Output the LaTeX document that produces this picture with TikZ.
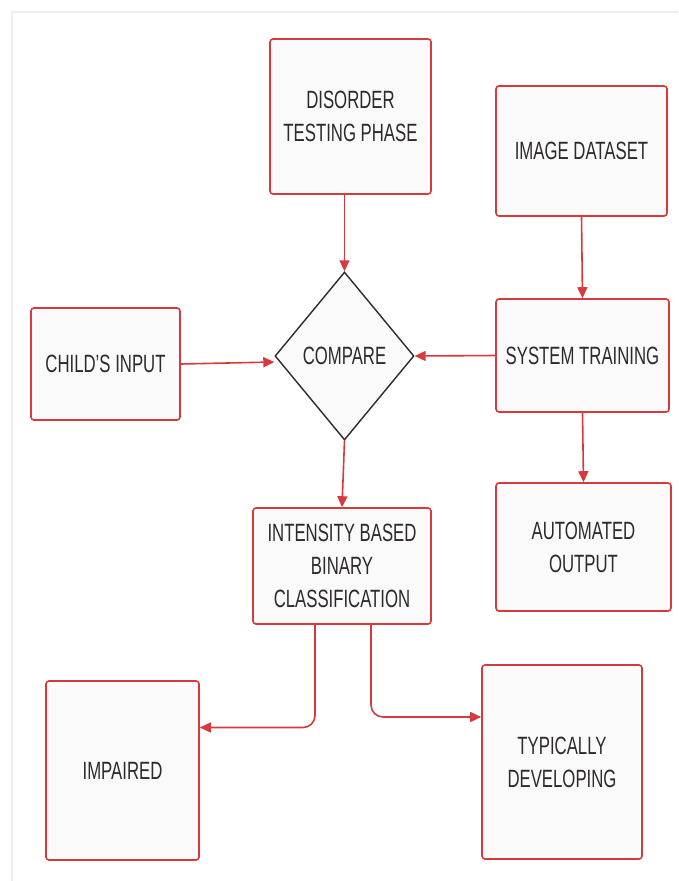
\documentclass[tikz,border=0pt]{standalone}
\usepackage{fontspec}
\setmainfont[FakeStretch=0.67]{Liberation Sans}
\usetikzlibrary{shapes.geometric,arrows.meta}
\definecolor{boxred}{HTML}{D63A3C}
\definecolor{boxfill}{HTML}{FAFAFA}
\definecolor{ink}{HTML}{2E2A2A}
\definecolor{frame}{HTML}{EEEEEE}
\tikzset{
  stepbox/.style={draw=boxred, fill=boxfill, line width=1.6pt, rounded corners=3pt,
    inner sep=0pt, align=center, text=ink, font=\fontsize{25}{33}\selectfont},
  decide/.style={diamond, draw=ink, fill=boxfill, line width=1.4pt, inner sep=0pt,
    minimum width=139pt, minimum height=168pt, aspect=0.83,
    text=ink, font=\fontsize{25}{33}\selectfont},
  flow/.style={draw=boxred, line width=1.6pt, -{Triangle[length=11pt,width=10pt]}},
}
\begin{document}
\begin{tikzpicture}[x=1pt,y=-1pt]
\useasboundingbox (0,0) rectangle (678,881);
% page frame
\draw[frame, line width=2pt] (12,881) -- (12,12) -- (678,12);

% process boxes
\node[stepbox, minimum width=161pt, minimum height=155pt] (dtp) at (350.5,116.5) {DISORDER\\TESTING PHASE};
\node[stepbox, minimum width=171pt, minimum height=130pt] (ids) at (581.5,151) {IMAGE DATASET};
\node[stepbox, minimum width=149pt, minimum height=112pt] (ci) at (105.5,364) {CHILD'S INPUT};
\node[decide] (cmp) at (344.5,356) {COMPARE};
\node[stepbox, minimum width=173pt, minimum height=113pt] (st) at (582.5,355.5) {SYSTEM TRAINING};
\node[stepbox, minimum width=178pt, minimum height=116pt] (ib) at (342,566) {INTENSITY BASED\\BINARY\\CLASSIFICATION};
\node[stepbox, minimum width=175pt, minimum height=128pt] (ao) at (583.5,547) {AUTOMATED\\OUTPUT};
\node[stepbox, minimum width=153pt, minimum height=179pt] (imp) at (122.5,770.5) {IMPAIRED};
\node[stepbox, minimum width=160pt, minimum height=194pt] (td) at (562,762) {TYPICALLY\\DEVELOPING};

% connectors
\draw[flow] (dtp.south -| cmp.north) -- (cmp.north);
\draw[flow] (ids.south) -- (st.north);
\draw[flow] (ci.east) -- ([yshift=-6pt]cmp.west);
\draw[flow] (st.west) -- (cmp.east);
\draw[flow] (st.south) -- (ao.north);
\draw[flow] (cmp.south) -- (ib.north);
\draw[flow, rounded corners=12pt] ([xshift=-27pt]ib.south) |- ([yshift=43pt]imp.east);
\draw[flow, rounded corners=12pt] ([xshift=29pt]ib.south) |- ([yshift=45pt]td.west);
\end{tikzpicture}
\end{document}
